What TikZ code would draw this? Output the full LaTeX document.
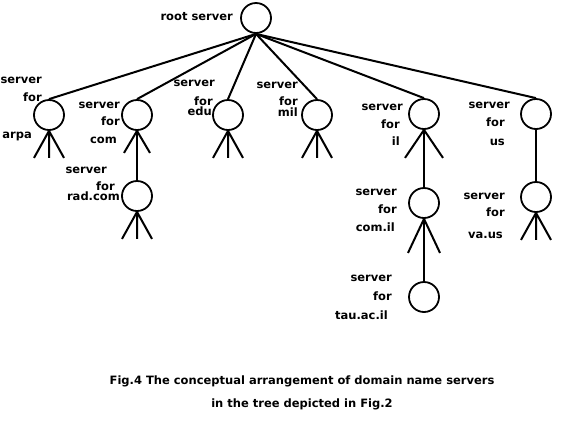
\documentclass[tikz,border=0pt]{standalone}
\usepackage{fontspec}
\setmainfont{DejaVu Sans}
\usetikzlibrary{positioning}

\tikzset{
  srv/.style={circle, draw, line width=1.8pt, minimum size=30pt, inner sep=0pt},
  link/.style={line width=2pt},
  lbl/.style={anchor=east, inner sep=0pt, text height=7pt, text depth=0pt,
    font=\bfseries\fontsize{11.5}{13}\selectfont},
}

\begin{document}
\begin{tikzpicture}[x=1pt, y=-1pt]
\useasboundingbox (0,0) rectangle (567,440);

% servers
\node[srv] (root) at (256,18) {};
\node[lbl] (root-l) at (233,17) {root server};

\node[srv] (arpa) at (49,115) {};
\node[srv] (com) at (137,115) {};
\node[srv] (edu) at (228,115) {};
\node[srv] (mil) at (317,115) {};
\node[srv] (il) at (424,114) {};
\node[srv] (us) at (536,114) {};

\node[srv] (radcom) at (137,196) {};
\node[srv] (comil) at (424,203) {};
\node[srv] (vaus) at (536,197) {};
\node[srv] (tau) at (424,297) {};

% links of the tree
\foreach \n in {arpa,com,edu,mil,il,us}
  \draw[link] (root.south) -- (\n.north);
\draw[link] (com.south) -- (radcom.north);
\draw[link] (il.south) -- (comil.north);
\draw[link] (comil.south) -- (tau.north);
\draw[link] (us.south) -- (vaus.north);

% fans below the servers
\foreach \n in {arpa,edu,mil,radcom,vaus}
  \draw[link] (\n.south) -- ++(-15,27) (\n.south) -- ++(0,27) (\n.south) -- ++(15,27);
\draw[link] (com.south) -- ++(-13,22) (com.south) -- ++(13,22);
\draw[link] (il.south) -- ++(-19,28) (il.south) -- ++(19,28);
\draw[link] (comil.south) -- ++(-16,34) (comil.south) -- ++(16,34);

% labels
\foreach \n/\xa/\ya/\xb/\yb/\xc/\yc/\w in {
  arpa/42/80/42/98/32/135/arpa,
  com/120/105/120/122/117/140/com,
  edu/215/83/213/102/212/112/edu,
  mil/298/85/298/102/298/113/mil,
  il/403/107/400/125/400/142/il,
  us/510/105/505/123/505/142/us,
  radcom/107/170/115/187/120/197/rad.com,
  comil/397/192/397/210/395/228/com.il,
  vaus/505/196/505/213/503/235/va.us,
  tau/392/278/392/297/388/316/tau.ac.il}
{
  \node[lbl] (\n-a) at (\xa,\ya) {server};
  \node[lbl] (\n-b) at (\xb,\yb) {for};
  \node[lbl] (\n-c) at (\xc,\yc) {\w};
}

% caption
\node[align=center, inner sep=0pt, font=\bfseries\fontsize{11.5}{23}\selectfont]
  (caption) at (302,393) {Fig.4 The conceptual arrangement of domain name servers\\in the tree depicted in Fig.2};

\end{tikzpicture}
\end{document}
